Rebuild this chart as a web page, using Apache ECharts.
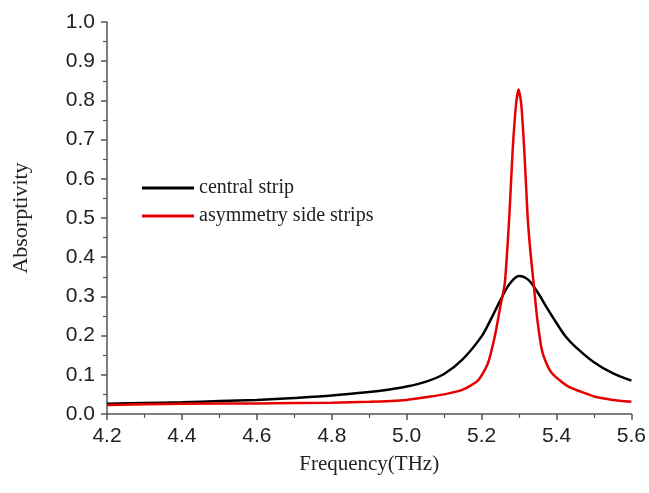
<!DOCTYPE html>
<html>
<head>
<meta charset="utf-8">
<script src="https://cdn.jsdelivr.net/npm/echarts@6/dist/echarts.min.js"></script>
<style>
html, body { margin: 0; padding: 0; background: #fff; }
#main { width: 649px; height: 493px; }
</style>
</head>
<body>
<div id="main"></div>
<script>
var chart = echarts.init(document.getElementById('main'));

// central strip (black)
var freqCentral = [4.2, 4.3, 4.4, 4.5, 4.6, 4.7, 4.8, 4.9, 4.95, 5.0, 5.05, 5.1, 5.15, 5.2, 5.225, 5.25, 5.275, 5.3, 5.325, 5.35, 5.375, 5.4, 5.425, 5.45, 5.5, 5.55, 5.6];
var absCentral = [0.026, 0.028, 0.030, 0.033, 0.036, 0.041, 0.047, 0.056, 0.062, 0.070, 0.082, 0.102, 0.140, 0.198, 0.242, 0.290, 0.332, 0.352, 0.342, 0.310, 0.270, 0.232, 0.197, 0.172, 0.132, 0.104, 0.085];

// asymmetry side strips (red)
var freqSide = [4.2, 4.4, 4.6, 4.8, 4.9, 5.0, 5.06, 5.1, 5.15, 5.19, 5.21, 5.22, 5.237, 5.25, 5.262, 5.274, 5.283, 5.292, 5.299, 5.306, 5.314, 5.323, 5.33, 5.339, 5.348, 5.361, 5.375, 5.388, 5.41, 5.432, 5.47, 5.503, 5.55, 5.6];
var absSide = [0.023, 0.026, 0.027, 0.029, 0.031, 0.036, 0.044, 0.050, 0.062, 0.085, 0.115, 0.138, 0.206, 0.274, 0.333, 0.503, 0.673, 0.790, 0.828, 0.790, 0.673, 0.503, 0.418, 0.333, 0.248, 0.163, 0.125, 0.104, 0.085, 0.070, 0.055, 0.044, 0.036, 0.031];

var seriesNames = ['central strip', 'asymmetry side strips'];

function pairs(xs, ys) {
	var out = [];
	for (var i = 0; i < xs.length; i++) {
		out.push([xs[i], ys[i]]);
	}
	return out;
}

var axisCol = '#555';

var option = {
	animation: false,
	backgroundColor: '#fff',
	color: ['#000000', '#e60000'],
	grid: {
		left: 107,
		right: 16,
		top: 22,
		bottom: 79
	},
	legend: {
		orient: 'vertical',
		left: 137,
		top: 173,
		icon: 'rect',
		itemWidth: 52,
		itemHeight: 3,
		itemGap: 8,
		textStyle: {
			fontFamily: 'Liberation Serif',
			fontSize: 20,
			color: '#222'
		},
		data: seriesNames
	},
	xAxis: {
		type: 'value',
		min: 4.2,
		max: 5.6,
		interval: 0.2,
		name: 'Frequency(THz)',
		nameLocation: 'middle',
		nameGap: 40,
		nameTextStyle: {
			fontFamily: 'Liberation Serif',
			fontSize: 21,
			color: '#222'
		},
		axisLine: { lineStyle: { color: axisCol, width: 1.5 } },
		axisTick: { show: true, length: 6, lineStyle: { color: axisCol, width: 1.5 } },
		minorTick: { show: true, splitNumber: 2, length: 4, lineStyle: { color: axisCol, width: 1.2 } },
		splitLine: { show: false },
		axisLabel: {
			margin: 12,
			fontFamily: 'Liberation Sans',
			fontSize: 21,
			color: '#222',
			formatter: function (v) { return v.toFixed(1); }
		}
	},
	yAxis: {
		type: 'value',
		min: 0,
		max: 1,
		interval: 0.1,
		name: 'Absorptivity',
		nameLocation: 'middle',
		nameGap: 75,
		nameTextStyle: {
			fontFamily: 'Liberation Serif',
			fontSize: 22,
			color: '#222'
		},
		axisLine: { show: true, lineStyle: { color: axisCol, width: 1.5 } },
		axisTick: { show: true, length: 6, lineStyle: { color: axisCol, width: 1.5 } },
		minorTick: { show: true, splitNumber: 2, length: 4, lineStyle: { color: axisCol, width: 1.2 } },
		splitLine: { show: false },
		axisLabel: {
			margin: 12,
			fontFamily: 'Liberation Sans',
			fontSize: 21,
			color: '#222',
			formatter: function (v) { return v.toFixed(1); }
		}
	},
	series: [{
		name: seriesNames[0],
		type: 'line',
		showSymbol: false,
		smooth: 0.3,
		lineStyle: { width: 2.5 },
		data: pairs(freqCentral, absCentral)
	}, {
		name: seriesNames[1],
		type: 'line',
		showSymbol: false,
		smooth: 0.2,
		lineStyle: { width: 2.5 },
		data: pairs(freqSide, absSide)
	}]
};
chart.setOption(option);
</script>
</body>
</html>
